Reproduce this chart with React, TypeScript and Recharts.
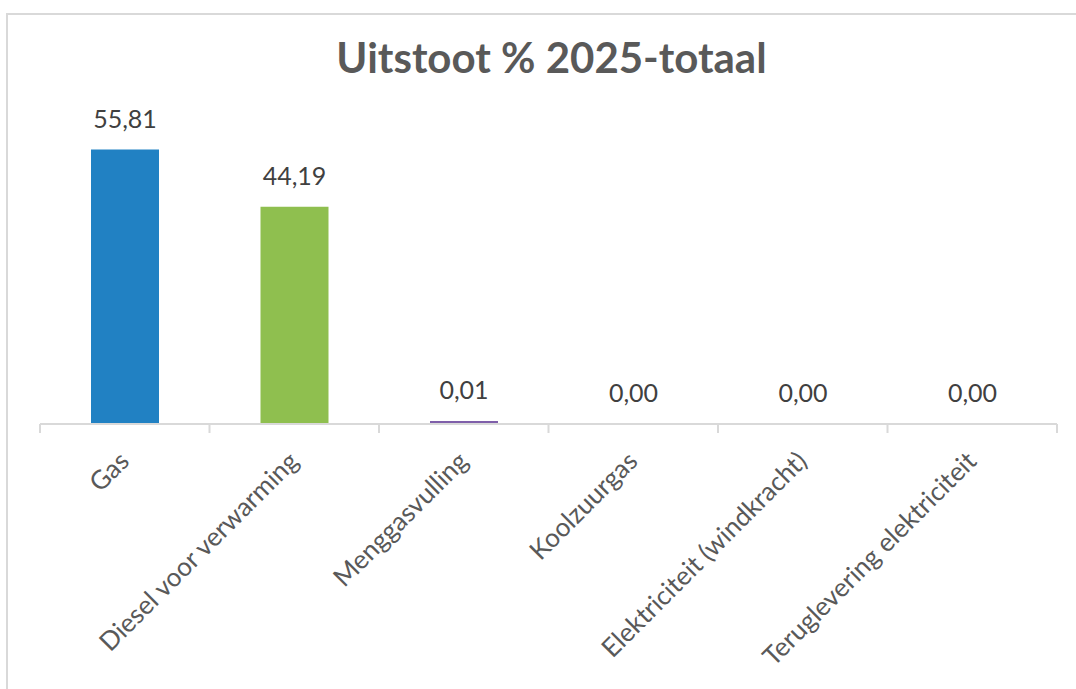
import React from 'react';
import { BarChart, Bar, XAxis, YAxis, Cell, LabelList } from 'recharts';

const categories = [
  'Gas',
  'Diesel voor verwarming',
  'Menggasvulling',
  'Koolzuurgas',
  'Elektriciteit (windkracht)',
  'Teruglevering elektriciteit',
];
const values = [55.81, 44.19, 0.01, 0.0, 0.0, 0.0];
const barColors = ['#2181C3', '#8FBF4F', '#7F5FAA', '#E9803A', '#A5A5A5', '#4BACC6'];
const title = 'Uitstoot % 2025-totaal';

const data = categories.map((name, i) => ({ name, value: values[i] }));

const TEXT = '#595959';
const LABEL = '#404040';
const GRID = '#D9D9D9';
const FONT = 'Lato, "Open Sans", sans-serif';

const CategoryTick = (props: any) => {
  const { x, y, payload, visibleTicksCount } = props;
  const half = payload.offset || 0;
  const ay = y + 33;
  const isLast = payload.index === (visibleTicksCount ?? categories.length) - 1;
  return (
    <g>
      <line x1={x - half} y1={y} x2={x - half} y2={y + 9} stroke={GRID} strokeWidth={2} />
      {isLast && <line x1={x + half} y1={y} x2={x + half} y2={y + 9} stroke={GRID} strokeWidth={2} />}
      <text
        x={x}
        y={ay}
        dy="0.32em"
        textAnchor="end"
        fontSize={26}
        fontFamily={FONT}
        fill={TEXT}
        transform={`rotate(-45, ${x}, ${ay})`}
      >
        {payload.value}
      </text>
    </g>
  );
};

export default function App() {
  return (
    <div style={{ position: 'absolute', left: 0, top: 0, width: 1076, height: 689, overflow: 'hidden', background: '#fff' }}>
      <div
        style={{
          position: 'absolute',
          left: 6,
          top: 13,
          width: 1200,
          height: 800,
          border: '2px solid #D9D9D9',
          boxSizing: 'border-box',
        }}
      />
      <div
        style={{
          position: 'absolute',
          left: 0,
          top: 36,
          width: 1103,
          textAlign: 'center',
          fontFamily: FONT,
          fontWeight: 700,
          fontSize: 42,
          lineHeight: 1,
          color: TEXT,
        }}
      >
        {title}
      </div>
      <div style={{ position: 'absolute', left: 0, top: 0 }}>
        <BarChart
          width={1076}
          height={689}
          data={data}
          margin={{ top: 129, right: 19, left: 40, bottom: 55 }}
        >
          <XAxis
            dataKey="name"
            interval={0}
            height={210}
            axisLine={{ stroke: GRID, strokeWidth: 2 }}
            tickLine={false}
            tickSize={0}
            tickMargin={0}
            tick={<CategoryTick />}
          />
          <YAxis hide domain={[0, 60]} allowDataOverflow />
          <Bar
            dataKey="value"
            barSize={68}
            isAnimationActive={false}
            minPointSize={(value: number) => (value > 0 ? 3 : 0.01)}
          >
            {data.map((d, i) => (
              <Cell key={d.name} fill={barColors[i]} />
            ))}
            <LabelList
              dataKey="value"
              position="top"
              offset={22}
              fontSize={25}
              fontFamily={FONT}
              fill={LABEL}
              formatter={(v: any) => Number(v).toFixed(2).replace('.', ',')}
            />
          </Bar>
        </BarChart>
      </div>
    </div>
  );
}
